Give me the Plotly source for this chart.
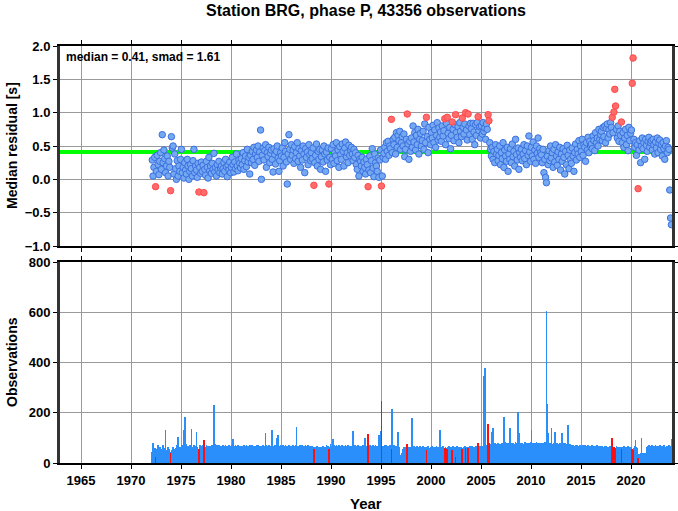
import plotly.graph_objects as go

# ---------------- data (monthly, Jan..Dec per row) ----------------
years = list(range(1972, 2025))

residuals = [
    # 1972
    None, 0.29, 0.05, 0.18, 0.33, -0.11, 0.12, 0.36, 0.22, 0.07, 0.27, 0.40,
    # 1973
    0.15, 0.67, 0.25, 0.44, 0.31, 0.10, 0.20, 0.35, 0.05, 0.27, 0.18, -0.17,
    # 1974
    0.64, 0.47, 0.50, 0.08, 0.38, 0.16, 0.00, 0.28, 0.05, 0.20, 0.12, 0.30,
    # 1975
    0.45, 0.10, 0.18, 0.02, 0.25, 0.14, 0.08, 0.30, 0.20, 0.00, 0.12, 0.22,
    # 1976
    0.16, 0.05, 0.28, 0.45, 0.10, 0.20, 0.14, 0.03, 0.24, -0.19, 0.18, 0.09,
    # 1977
    0.26, 0.12, 0.21, -0.20, 0.15, 0.06, 0.27, 0.18, 0.02, 0.33, 0.13, 0.20,
    # 1978
    0.09, 0.24, 0.15, 0.39, 0.11, 0.18, 0.05, 0.22, 0.14, 0.27, 0.10, 0.17,
    # 1979
    0.20, 0.08, 0.16, 0.25, 0.12, 0.30, 0.19, 0.04, 0.21, 0.14, 0.26, 0.10,
    # 1980
    0.18, 0.33, 0.22, 0.11, 0.26, 0.16, 0.38, 0.20, 0.13, 0.29, 0.24, 0.17,
    # 1981
    0.31, 0.22, 0.40, 0.15, 0.28, 0.35, 0.19, 0.45, 0.26, 0.33, 0.08, 0.36,
    # 1982
    0.25, 0.42, 0.30, 0.48, 0.21, 0.38, 0.44, 0.33, 0.50, 0.27, 0.41, 0.74,
    # 1983
    0.00, 0.36, 0.47, 0.29, 0.43, 0.52, 0.18, 0.40, 0.34, 0.48, 0.25, 0.39,
    # 1984
    0.44, 0.30, 0.11, 0.46, 0.37, 0.23, 0.42, 0.50, 0.32, 0.12, 0.28, 0.40,
    # 1985
    0.35, 0.47, 0.20, 0.33, 0.55, 0.42, 0.26, -0.07, 0.38, 0.67, 0.45, 0.30,
    # 1986
    0.52, 0.36, 0.44, 0.24, 0.49, 0.31, 0.40, 0.55, 0.27, 0.46, 0.35, 0.18,
    # 1987
    0.43, 0.29, 0.50, 0.38, 0.10, 0.46, 0.33, 0.41, 0.22, 0.52, 0.37, 0.28,
    # 1988
    0.40, 0.31, 0.47, -0.09, 0.25, 0.36, 0.53, 0.20, 0.42, 0.30, 0.45, 0.15,
    # 1989
    0.34, 0.44, 0.26, 0.50, 0.38, 0.12, 0.41, 0.29, 0.47, -0.07, 0.33, 0.22,
    # 1990
    0.46, 0.30, 0.52, 0.24, 0.40, 0.35, 0.55, 0.28, 0.44, 0.18, 0.49, 0.37,
    # 1991
    0.30, 0.53, 0.42, 0.20, 0.47, 0.56, 0.34, 0.40, 0.25, 0.51, 0.36, 0.44,
    # 1992
    0.48, 0.38, 0.28, 0.45, 0.33, 0.40, 0.22, 0.15, 0.36, 0.05, 0.30, 0.27,
    # 1993
    0.20, 0.33, 0.12, 0.26, 0.18, 0.08, 0.30, 0.22, -0.11, 0.14, 0.35, 0.10,
    # 1994
    0.28, 0.46, 0.17, 0.04, 0.38, 0.25, 0.20, 0.12, 0.32, 0.03, 0.29, 0.44,
    # 1995
    -0.10, 0.05, 0.33, 0.39, 0.48, 0.30, 0.55, 0.42, 0.57, 0.36, 0.50, 0.46,
    # 1996
    0.90, 0.40, 0.60, 0.52, 0.63, 0.38, 0.70, 0.48, 0.66, 0.58, 0.72, 0.45,
    # 1997
    0.55, 0.64, 0.50, 0.68, 0.34, 0.45, 0.60, 0.98, 0.53, 0.30, 0.57, 0.42,
    # 1998
    0.62, 0.48, 0.80, 0.56, 0.70, 0.44, 0.66, 0.52, 0.75, 0.38, 0.60, 0.69,
    # 1999
    0.50, 0.58, 0.72, 0.45, 0.83, 0.55, 0.93, 0.64, 0.40, 0.78, 0.60, 0.52,
    # 2000
    0.70, 0.62, 0.81, 0.55, 0.74, 0.48, 0.66, 0.85, 0.59, 0.77, 0.63, 0.71,
    # 2001
    0.57, 0.80, 0.65, 0.73, 0.91, 0.52, 0.84, 0.93, 0.69, 0.61, 0.78, 0.46,
    # 2002
    0.66, 0.86, 0.75, 0.58, 0.82, 0.97, 0.70, 0.63, 0.79, 0.55, 0.85, 0.72,
    # 2003
    0.64, 0.92, 0.78, 0.68, 0.83, 1.00, 0.74, 0.59, 0.98, 0.80, 0.67, 0.84,
    # 2004
    0.76, 0.60, 0.84, 0.71, 0.52, 0.82, 0.66, 0.85, 0.94, 0.73, 0.79, 0.62,
    # 2005
    0.80, 0.68, 0.85, 0.72, 0.77, 0.60, 0.83, 0.75, 0.97, 0.88, 0.55, 0.45,
    # 2006
    0.35, 0.48, 0.30, 0.42, 0.25, 0.52, 0.38, 0.45, 0.28, 0.36, 0.50, 0.22,
    # 2007
    0.40, 0.31, 0.55, 0.18, 0.44, 0.35, 0.27, 0.48, 0.12, 0.38, 0.30, 0.46,
    # 2008
    0.25, 0.53, 0.34, 0.42, 0.20, 0.60, 0.37, 0.29, 0.47, 0.15, 0.40, 0.33,
    # 2009
    0.45, 0.28, 0.38, 0.52, 0.31, 0.43, 0.22, 0.50, 0.36, 0.65, 0.41, 0.27,
    # 2010
    0.48, 0.35, 0.56, 0.30, 0.44, 0.24, 0.50, 0.39, 0.62, 0.33, 0.46, 0.40,
    # 2011
    0.37, 0.25, 0.45, 0.10, 0.30, 0.03, -0.05, 0.35, 0.22, 0.43, 0.28, 0.50,
    # 2012
    0.32, 0.40, 0.18, 0.45, 0.26, 0.52, 0.35, 0.21, 0.41, 0.30, 0.48, 0.14,
    # 2013
    0.38, 0.27, 0.46, 0.33, 0.08, 0.42, 0.22, 0.51, 0.36, 0.16, 0.44, 0.30,
    # 2014
    0.24, 0.47, 0.35, 0.12, 0.40, 0.53, 0.29, 0.45, 0.38, 0.58, 0.33, 0.50,
    # 2015
    0.42, 0.60, 0.36, 0.52, 0.48, 0.27, 0.55, 0.44, 0.63, 0.40, 0.57, 0.50,
    # 2016
    0.53, 0.46, 0.65, 0.58, 0.43, 0.70, 0.55, 0.62, 0.50, 0.75, 0.60, 0.67,
    # 2017
    0.72, 0.58, 0.78, 0.64, 0.80, 0.55, 0.76, 0.83, 0.62, 0.74, 0.68, 0.85,
    # 2018
    0.78, 0.93, 0.70, 1.01, 1.35, 1.10, 0.75, 0.62, 0.80, 0.57, 0.72, 0.66,
    # 2019
    0.86, 0.55, 0.70, 0.48, 0.62, 0.75, 0.52, 0.66, 0.43, 0.78, 0.58, 0.69,
    # 2020
    0.74, 1.44, 1.82, 0.60, 0.48, 0.55, 0.36, 0.52, -0.14, 0.44, 0.58, 0.25,
    # 2021
    0.50, 0.62, 0.46, 0.55, 0.30, 0.60, 0.51, 0.42, 0.57, 0.63, 0.48, 0.55,
    # 2022
    0.58, 0.44, 0.60, 0.52, 0.38, 0.56, 0.47, 0.62, 0.40, 0.54, 0.59, 0.45,
    # 2023
    0.52, 0.35, 0.55, 0.46, 0.30, 0.50, 0.58, 0.40, 0.48, 0.45, -0.16, -0.58,
    # 2024
    -0.68,
]

observations = [
    # 1972
    0, 45, 80, 38, 60, 25, 55, 42, 70, 50, 65, 48,
    # 1973
    55, 35, 70, 45, 60, 130, 50, 40, 65, 55, 45, 40,
    # 1974
    50, 45, 62, 55, 48, 60, 58, 70, 105, 65, 58, 62,
    # 1975
    60, 70, 55, 130, 185, 65, 75, 58, 68, 62, 70, 60,
    # 1976
    135, 65, 58, 72, 60, 68, 125, 62, 55, 55, 70, 64,
    # 1977
    66, 60, 72, 90, 62, 58, 70, 64, 68, 60, 66, 62,
    # 1978
    65, 70, 62, 230, 75, 68, 64, 70, 60, 72, 66, 62,
    # 1979
    68, 64, 70, 62, 66, 72, 60, 68, 64, 70, 62, 66,
    # 1980
    70, 62, 95, 66, 64, 70, 62, 68, 72, 60, 66, 64,
    # 1981
    62, 68, 64, 70, 60, 66, 72, 64, 68, 62, 70, 66,
    # 1982
    64, 70, 62, 68, 66, 60, 72, 64, 70, 62, 68, 64,
    # 1983
    66, 62, 70, 64, 68, 120, 72, 66, 62, 70, 64, 68,
    # 1984
    70, 130, 66, 62, 72, 64, 100, 68, 110, 66, 62, 70,
    # 1985
    62, 68, 70, 64, 66, 72, 60, 68, 64, 70, 66, 62,
    # 1986
    68, 64, 72, 66, 62, 70, 145, 66, 68, 64, 70, 62,
    # 1987
    66, 70, 62, 68, 64, 72, 60, 66, 70, 62, 68, 64,
    # 1988
    60, 66, 62, 55, 64, 58, 62, 66, 60, 64, 58, 62,
    # 1989
    64, 58, 66, 62, 60, 64, 70, 62, 66, 55, 64, 75,
    # 1990
    62, 66, 95, 70, 64, 68, 72, 66, 62, 70, 64, 68,
    # 1991
    66, 70, 64, 68, 62, 72, 66, 64, 70, 62, 68, 66,
    # 1992
    64, 68, 128, 66, 70, 62, 68, 64, 72, 66, 60, 68,
    # 1993
    62, 66, 70, 64, 100, 68, 62, 66, 115, 64, 70, 62,
    # 1994
    66, 62, 70, 64, 68, 72, 62, 66, 64, 110, 70, 128,
    # 1995
    247, 62, 68, 64, 70, 66, 72, 62, 68, 64, 70, 66,
    # 1996
    55, 214, 62, 70, 64, 66, 60, 68, 125, 62, 30, 10,
    # 1997
    8, 40, 55, 62, 58, 64, 66, 75, 60, 62, 58, 64,
    # 1998
    60, 178, 62, 66, 58, 64, 60, 68, 62, 58, 66, 60,
    # 1999
    62, 58, 66, 60, 64, 58, 50, 62, 66, 60, 58, 64,
    # 2000
    60, 66, 58, 62, 64, 60, 66, 58, 62, 60, 130, 64,
    # 2001
    58, 62, 66, 60, 60, 64, 58, 55, 62, 66, 60, 64,
    # 2002
    62, 50, 66, 58, 64, 25, 60, 66, 58, 62, 64, 60,
    # 2003
    64, 55, 60, 62, 66, 60, 58, 64, 60, 62, 66, 58,
    # 2004
    62, 66, 60, 64, 58, 66, 62, 68, 80, 64, 66, 60,
    # 2005
    64, 68, 62, 345, 380, 70, 66, 72, 155, 80, 75, 68,
    # 2006
    70, 125, 140, 72, 80, 68, 76, 72, 78, 74, 70, 76,
    # 2007
    72, 78, 74, 185, 76, 82, 78, 70, 80, 76, 140, 74,
    # 2008
    78, 72, 80, 76, 74, 82, 78, 72, 204, 120, 80, 76,
    # 2009
    74, 80, 76, 72, 82, 78, 74, 80, 72, 78, 76, 82,
    # 2010
    130, 76, 80, 74, 78, 72, 82, 76, 80, 74, 78, 72,
    # 2011
    76, 80, 74, 78, 82, 76, 605, 235, 120, 80, 74, 78,
    # 2012
    140, 76, 72, 80, 125, 78, 74, 80, 76, 72, 78, 74,
    # 2013
    76, 120, 72, 78, 74, 80, 76, 72, 150, 74, 70, 76,
    # 2014
    70, 66, 72, 68, 64, 70, 66, 72, 68, 64, 70, 66,
    # 2015
    68, 64, 70, 66, 72, 62, 68, 64, 70, 66, 62, 68,
    # 2016
    64, 70, 62, 68, 66, 60, 64, 70, 66, 62, 68, 64,
    # 2017
    62, 66, 60, 64, 68, 62, 66, 60, 64, 62, 66, 60,
    # 2018
    64, 98, 62, 65, 55, 60, 66, 58, 62, 60, 64, 58,
    # 2019
    55, 64, 60, 66, 62, 58, 64, 60, 66, 62, 58, 64,
    # 2020
    62, 55, 50, 60, 66, 90, 62, 58, 20, 36, 34, 38,
    # 2021
    100, 38, 34, 40, 36, 40, 60, 62, 66, 70, 64, 68,
    # 2022
    66, 70, 62, 68, 64, 72, 66, 60, 68, 64, 70, 66,
    # 2023
    62, 68, 66, 70, 64, 60, 68, 66, 62, 70, 64, 68,
    # 2024
    95,
]

red_months = [
    "1972-06", "1973-12", "1976-10", "1977-04", "1988-04", "1989-10",
    "1993-09", "1995-01", "1996-01", "1997-08", "1999-07", "2001-05",
    "2001-08", "2002-02", "2002-06", "2003-02", "2003-06", "2003-09",
    "2004-09", "2005-09", "2005-10", "2018-02", "2018-04", "2018-05",
    "2018-06", "2019-01", "2020-02", "2020-03", "2020-09",
]

median_value = 0.41
smad_value = 1.61
total_obs = 43356
x_ticks = [1965, 1970, 1975, 1980, 1985, 1990, 1995, 2000, 2005, 2010, 2015, 2020]

# ---------------- build ----------------
labels = []
xdec = []
for i in range(len(residuals)):
    y = years[0] + i // 12
    m = i % 12 + 1
    labels.append(f"{y}-{m:02d}")
    xdec.append(y + (m - 0.5) / 12)

red_set = set(red_months)
bx, by, rx, ry = [], [], [], []
obx, oby, orx, ory = [], [], [], []
for lab, x, r, o in zip(labels, xdec, residuals, observations):
    if r is not None:
        if lab in red_set:
            rx.append(x); ry.append(r)
        else:
            bx.append(x); by.append(r)
    if lab in red_set:
        orx.append(x); ory.append(o)
    else:
        obx.append(x); oby.append(o)

FONT = "Liberation Sans"
fig = go.Figure()

xr = [1962.9, 2024.1]
fig.add_trace(go.Scatter(x=xr, y=[median_value, median_value], mode="lines",
                         line=dict(color="#00ff00", width=4), xaxis="x", yaxis="y",
                         showlegend=False, hoverinfo="skip"))
fig.add_trace(go.Scatter(x=bx, y=by, mode="markers", xaxis="x", yaxis="y",
                         marker=dict(size=6.5, color="#74a9f2",
                                     line=dict(color="#3b6fe0", width=1)),
                         showlegend=False))
fig.add_trace(go.Scatter(x=rx, y=ry, mode="markers", xaxis="x", yaxis="y",
                         marker=dict(size=6.5, color="#ff6a6a",
                                     line=dict(color="#ff4a4a", width=1)),
                         showlegend=False))

fig.add_trace(go.Bar(x=obx, y=oby, width=1 / 12, xaxis="x2", yaxis="y2",
                     marker=dict(color="#2b8ffb", line=dict(width=0)),
                     showlegend=False))
fig.add_trace(go.Bar(x=orx, y=ory, width=1 / 12, xaxis="x2", yaxis="y2",
                     marker=dict(color="#ff1010", line=dict(width=0)),
                     showlegend=False))

tickf = dict(family=FONT, size=13, color="black", weight="bold")
common_x = dict(range=xr, tickvals=x_ticks, ticks="outside", ticklen=4,
                tickcolor="black", showline=True, linecolor="black", linewidth=2,
                mirror="allticks", showgrid=True, gridcolor="#9a9a9a", gridwidth=1,
                zeroline=False, automargin=False)
common_y = dict(ticks="outside", ticklen=4, tickcolor="black", showline=True,
                linecolor="#333333", linewidth=3, mirror="allticks", showgrid=True,
                gridcolor="#9a9a9a", gridwidth=1, zeroline=False, tickfont=tickf,
                automargin=False)

plot_top, plot_bot = 46, 463
H = 511
W = 678
L, R = 60, 6
ph = plot_bot - plot_top

titlef = dict(family=FONT, size=14, color="black", weight="bold")

fig.update_layout(
    width=W, height=H,
    margin=dict(l=L, r=R, t=plot_top, b=H - plot_bot, autoexpand=False),
    paper_bgcolor="white", plot_bgcolor="white",
    bargap=0,
    title=dict(text=f"Station BRG, phase P, {total_obs} observations",
               x=0.5, xanchor="center", xref="paper", y=1 - 10 / H, yanchor="middle",
               font=dict(family=FONT, size=16, color="black", weight="bold")),
    xaxis=dict(common_x, domain=[0, 1], anchor="y", showticklabels=False),
    yaxis=dict(common_y, domain=[(plot_bot - 246) / ph, 1], range=[-1, 2],
               dtick=0.5, tick0=0, tickformat=".1f"),
    xaxis2=dict(common_x, domain=[0, 1], anchor="y2", tickfont=tickf),
    yaxis2=dict(common_y, domain=[0, (plot_bot - 262) / ph], range=[0, 800],
                dtick=200, tick0=0),
    annotations=[
        dict(text=f"median = {median_value:.2f}, smad = {smad_value:.2f}",
             xref="x", yref="y domain", x=1963.3, y=0.99, xanchor="left",
             yanchor="top", showarrow=False,
             font=dict(family=FONT, size=12, color="black", weight="bold")),
        dict(text="Median residual [s]", xref="paper", yref="paper",
             x=-(L - 12) / (W - L - R), y=(plot_bot - 146) / ph, textangle=-90,
             xanchor="center", yanchor="middle", showarrow=False, font=titlef),
        dict(text="Observations", xref="paper", yref="paper",
             x=-(L - 12) / (W - L - R), y=(plot_bot - 362) / ph, textangle=-90,
             xanchor="center", yanchor="middle", showarrow=False, font=titlef),
        dict(text="Year", xref="paper", yref="paper",
             x=(366 - L) / (W - L - R), y=-(503 - plot_bot) / ph,
             xanchor="center", yanchor="middle", showarrow=False,
             font=dict(family=FONT, size=15, color="black", weight="bold")),
    ],
)

fig.write_html("out.html", config={"displayModeBar": False},
               post_script="document.body.style.margin='0';document.body.style.overflow='hidden';")
